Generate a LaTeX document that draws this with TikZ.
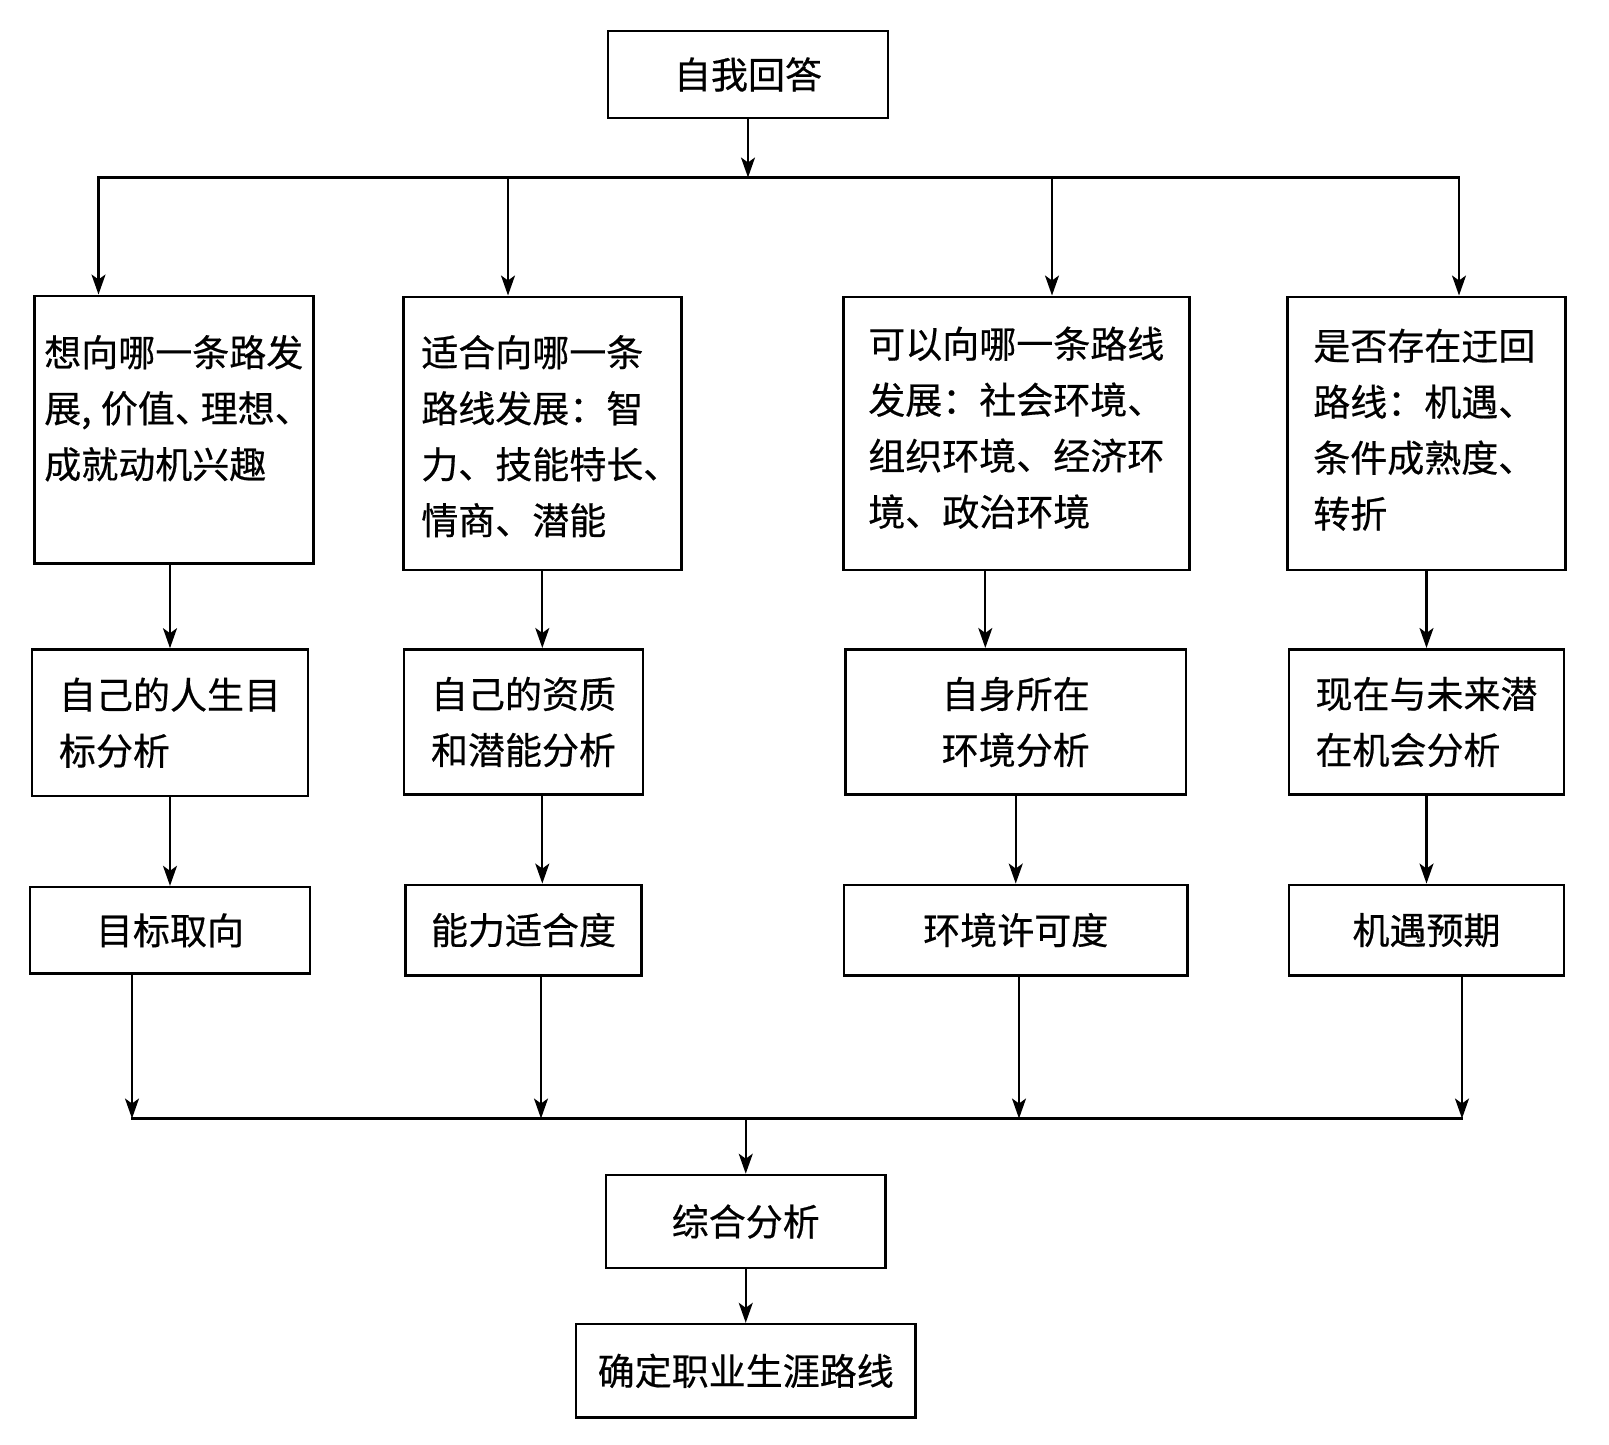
\documentclass[tikz,border=0pt]{standalone}
\usepackage{fontspec}
\usepackage{tikz}
\usetikzlibrary{arrows.meta, positioning}
\newfontfamily\cjk[FakeBold=0.5]{Noto Sans CJK SC}
\newcommand{\halfdun}{\makebox[.7em][l]{、}}
\tikzset{
  box/.style={
    rectangle, draw=black, line width=2.6pt,
    inner sep=0pt, align=center,
    font=\cjk\fontsize{37pt}{56pt}\selectfont,
  },
  askbox/.style={
    box, anchor=north west, align=left,
    inner ysep=0pt,
  },
  midbox/.style={box, align=left},
  line/.style={line width=2.2pt, line cap=rect},
  arrow/.style={line, -{Stealth[length=20pt,width=14pt,inset=5pt]}},
}

\begin{document}
\begin{tikzpicture}[x=1pt,y=-1pt]
  \useasboundingbox (0,0) rectangle (1609,1445);
  \node[box,minimum width=280pt,minimum height=87pt] (ask) at (748,74.5) {自我回答};
  % questions
  \node[askbox,inner xsep=10pt,text width=259pt,text height=70.5pt,text depth=197pt] (want) at (33,294.5)
    {想向哪一条路发\\展,\kern.25em价值\halfdun 理想\halfdun\\成就动机兴趣};
  \node[askbox,inner xsep=18pt,text width=242pt,text height=69.5pt,text depth=203.5pt] (fit) at (402,295.5)
    {适合向哪一条\\路线发展：智\\力、技能特长、\\情商、潜能};
  \node[askbox,inner xsep=25pt,text width=296pt,text height=61pt,text depth=212pt] (can) at (842,295.5)
    {可以向哪一条路线\\发展：社会环境、\\组织环境、经济环\\境、政治环境};
  \node[askbox,inner xsep=26pt,text width=226pt,text height=63pt,text depth=210pt] (detour) at (1286,295.5)
    {是否存在迂回\\路线：机遇、\\条件成熟度、\\转折};
  % analyses
  \node[midbox,minimum width=276pt,minimum height=146.5pt] (goal) at (170,722.75) {自己的人生目\\标分析};
  \node[midbox,minimum width=239pt,minimum height=145.5pt] (quality) at (523.5,722) {自己的资质\\和潜能分析};
  \node[midbox,minimum width=340.5pt,minimum height=145.5pt] (env) at (1015.75,722) {自身所在\\环境分析};
  \node[midbox,minimum width=275pt,minimum height=145.5pt] (chance) at (1426.5,722) {现在与未来潜\\在机会分析};
  % results
  \node[box,minimum width=280pt,minimum height=86.5pt,below=88.5pt of goal] (orient) {目标取向};
  \node[box,minimum width=236pt,minimum height=90.5pt,below=87.5pt of quality] (ability) {能力适合度};
  \node[box,minimum width=343.5pt,minimum height=90.5pt,below=87.5pt of env] (permit) {环境许可度};
  \node[box,minimum width=275pt,minimum height=90.5pt,below=87.5pt of chance] (expect) {机遇预期};
  \node[box,minimum width=279.5pt,minimum height=93pt] (synth) at (745.75,1221.5) {综合分析};
  \node[box,minimum width=339.5pt,minimum height=93.5pt,below=53.5pt of synth] (route) {确定职业生涯路线};
  % upper bus
  \coordinate (busA) at (98.5,177.5);
  \coordinate (busB) at (508,177.5);
  \coordinate (busC) at (1052,177.5);
  \coordinate (busD) at (1459,177.5);
  \draw[arrow] (ask) -- (ask |- busA);
  \draw[line] (busA) -- (busD);
  \draw[arrow] (busA) -- (busA |- want.north);
  \draw[arrow] (busB) -- (busB |- fit.north);
  \draw[arrow] (busC) -- (busC |- can.north);
  \draw[arrow] (busD) -- (busD |- detour.north);
  % down the columns
  \coordinate (canx) at ([xshift=-31pt]can.south);
  \draw[arrow] (goal.north |- want.south) -- (goal.north);
  \draw[arrow] (fit.south) -- (fit.south |- quality.north);
  \draw[arrow] (canx) -- (canx |- env.north);
  \draw[arrow] (chance.north |- detour.south) -- (chance.north);
  \draw[arrow] (goal) -- (orient);
  \draw[arrow] (quality.south -| fit.south) -- (ability.north -| fit.south);
  \draw[arrow] (env) -- (permit);
  \draw[arrow] (chance) -- (expect);
  % lower bus
  \coordinate (joinA) at (132,1118.5);
  \coordinate (joinB) at (541,1118.5);
  \coordinate (joinC) at (1019,1118.5);
  \coordinate (joinD) at (1462,1118.5);
  \draw[line] (joinA) -- (joinD);
  \draw[arrow] (orient.south -| joinA) -- (joinA);
  \draw[arrow] (ability.south -| joinB) -- (joinB);
  \draw[arrow] (permit.south -| joinC) -- (joinC);
  \draw[arrow] (expect.south -| joinD) -- (joinD);
  \draw[arrow] (synth.north |- joinA) -- (synth);
  \draw[arrow] (synth) -- (route);
\end{tikzpicture}
\end{document}
